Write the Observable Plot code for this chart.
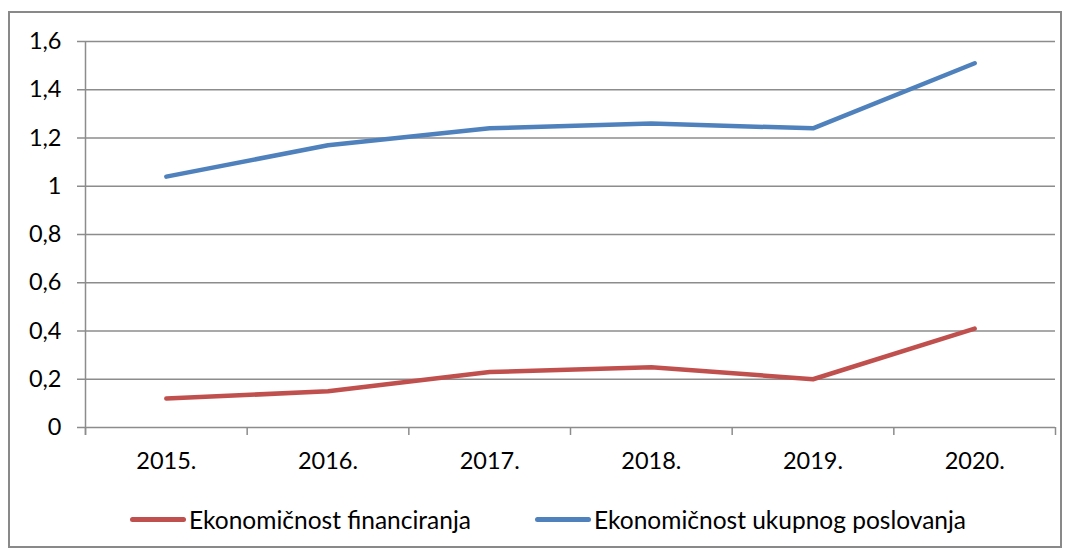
<!DOCTYPE html>
<html>
<head>
<meta charset="utf-8">
<script src="https://cdn.jsdelivr.net/npm/d3@7"></script>
<script src="https://cdn.jsdelivr.net/npm/@observablehq/plot@0.6"></script>
<style>
  html, body { margin: 0; padding: 0; background: #fff; }
  #frame { position: absolute; left: 8px; top: 11px; width: 1050px; height: 533px; border: 2px solid #898989; background: #fff; font-family: Lato, "Open Sans", sans-serif; }
  #legend { position: absolute; left: 0; top: 490px; width: 100%; height: 32px; font-size: 24.5px; color: #000; }
  .item { position: absolute; top: 0; display: flex; align-items: center; height: 32px; white-space: nowrap; }
  .sw { width: 56px; height: 5px; border-radius: 3px; margin-right: 3px; }
</style>
</head>
<body>
<div id="frame"><div id="chart"></div><div id="legend"></div></div>
<script>
const years = ["2015.", "2016.", "2017.", "2018.", "2019.", "2020."];
const financiranja = [0.12, 0.15, 0.23, 0.25, 0.20, 0.41];
const ukupnog = [1.04, 1.17, 1.24, 1.26, 1.24, 1.51];
const seriesNames = ["Ekonomičnost financiranja", "Ekonomičnost ukupnog poslovanja"];
const seriesColors = ["#C0504D", "#4F81BD"];
const yTicks = [0, 0.2, 0.4, 0.6, 0.8, 1, 1.2, 1.4, 1.6];

const rows = [];
[financiranja, ukupnog].forEach((vals, s) => {
  vals.forEach((v, i) => rows.push({series: seriesNames[s], i: i + 0.5, value: v}));
});
const bandEdges = d3.range(years.length + 1);
const bandCenters = years.map((_, i) => i + 0.5);
const fmt = v => String(+v.toFixed(1)).replace(".", ",");

const plot = Plot.plot({
  width: 1050,
  height: 480,
  marginLeft: 75,
  marginRight: 5,
  marginTop: 28,
  marginBottom: 66,
  style: {fontFamily: "Lato, 'Open Sans', sans-serif", fontSize: "23.5px", color: "#000", background: "#fff"},
  x: {type: "linear", domain: [0, years.length]},
  y: {domain: [0, 1.6]},
  color: {domain: seriesNames, range: seriesColors},
  marks: [
    Plot.ruleY(yTicks, {stroke: "#8c8c8c", strokeWidth: 1.5, strokeOpacity: 1, insetLeft: -8}),
    Plot.axisY({ticks: yTicks, tickFormat: fmt, tickSize: 0, tickPadding: 24, label: null, fontSize: 23.5}),
    Plot.ruleX([0], {stroke: "#8c8c8c", strokeWidth: 1.5, insetBottom: -8}),
    Plot.axisX({ticks: bandEdges, tickFormat: () => "", tickSize: 8, stroke: "#8c8c8c", strokeWidth: 1.5, strokeOpacity: 1, label: null}),
    Plot.axisX({ticks: bandCenters, tickFormat: v => years[Math.round(v - 0.5)], tickSize: 0, tickPadding: 25, label: null, fontSize: 23.5}),
    Plot.line(rows, {x: "i", y: "value", z: "series", stroke: "series", strokeWidth: 4.5, strokeLinecap: "round", strokeLinejoin: "round"})
  ]
});
document.getElementById("chart").appendChild(plot);

const legend = document.getElementById("legend");
const lefts = [120, 525];
seriesNames.forEach((name, k) => {
  const it = document.createElement("div");
  it.className = "item";
  it.style.left = lefts[k] + "px";
  const sw = document.createElement("div");
  sw.className = "sw";
  sw.style.background = seriesColors[k];
  const tx = document.createElement("span");
  tx.textContent = name;
  it.appendChild(sw); it.appendChild(tx);
  legend.appendChild(it);
});
</script>
</body>
</html>
